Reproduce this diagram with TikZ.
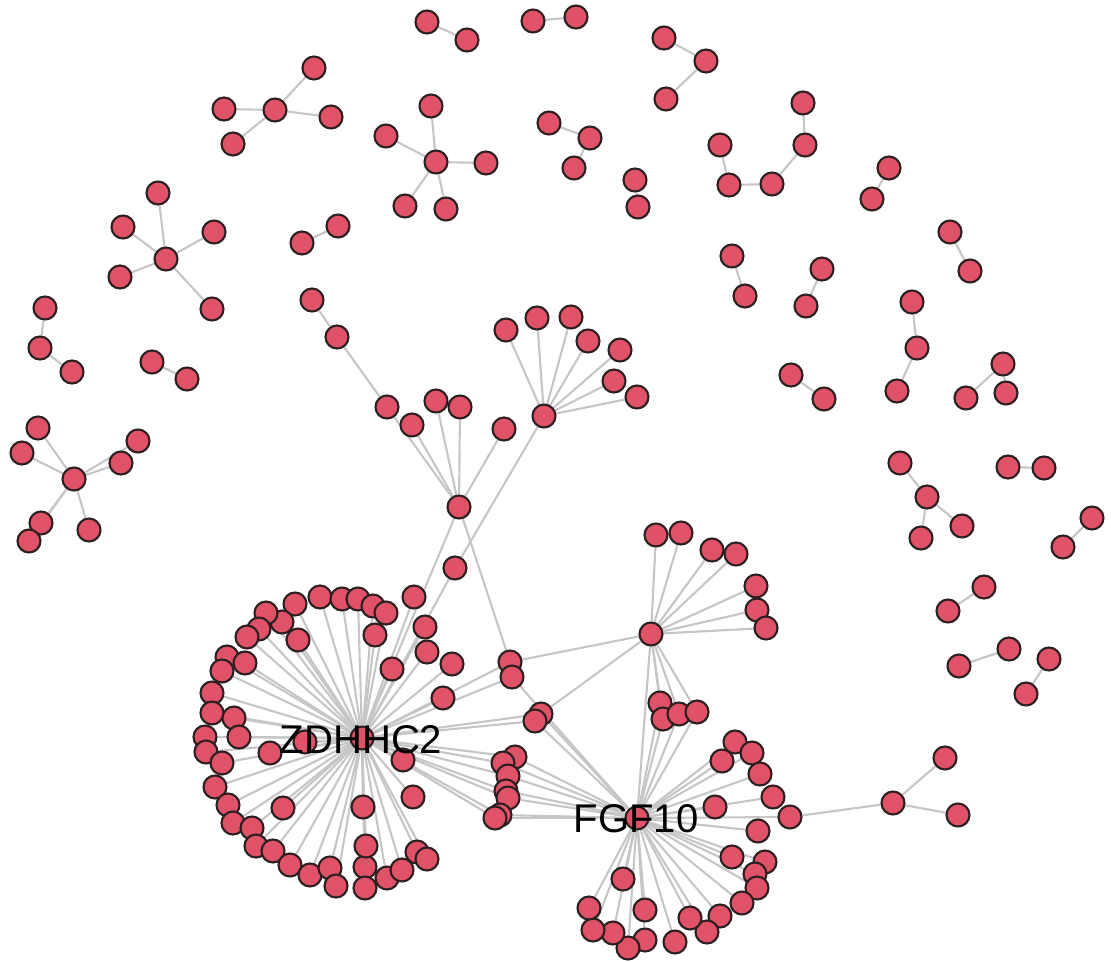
\documentclass[tikz,border=0pt]{standalone}
\usepackage{fontspec}
\setmainfont{Liberation Sans}
\usetikzlibrary{backgrounds}
\definecolor{nodefill}{RGB}{224,82,104}
\definecolor{nodeline}{RGB}{45,30,32}
\definecolor{edgecol}{RGB}{198,198,198}
\tikzset{
  v/.style={circle,fill=nodefill,draw=nodeline,line width=0.6pt,inner sep=0pt,minimum size=2.3mm},
  e/.style={draw=edgecol,line width=0.6pt},
  lbl/.style={font=\fontsize{11.4}{13}\selectfont,text=black,inner sep=0pt}
}
\begin{document}
\begin{tikzpicture}[x=0.01cm,y=-0.01cm]
\useasboundingbox (0,0) rectangle (1111,963);
% hubs
\node[v] (zc) at (362,738) {};
\node[v] (fc) at (637,818) {};
\node[v] (h1) at (459,507) {};
\node[v] (h2) at (544,416) {};
\node[v] (h3) at (651,634) {};
\node[v] (n455) at (455,568) {};
% ZDHHC2 leaves
\foreach \n/\x/\y in {z1/320/597,z2/342/599,z3/358/599,z4/373/606,z5/386/613,z6/375/635,z7/295/604,z8/282/622,z9/266/613,z10/259/629,z11/247/637,z12/298/640,z13/227/657,z14/245/663,z15/222/671,z16/212/693,z17/212/713,z18/234/718,z19/239/737,z20/205/737,z21/206/752,z22/222/763,z23/270/753,z24/305/742,z25/215/787,z26/228/805,z27/233/823,z28/252/828,z29/256/846,z30/273/851,z31/290/865,z32/310/875,z33/330/868,z34/336/886,z35/365/867,z36/365/888,z37/366/846,z38/363/807,z39/387/878,z40/402/870,z41/417/852,z42/427/859,z43/413/797,z44/403/760,z45/283/808,z46/392/669,z47/425/627,z48/414/597,z49/427/652,z50/452/664,z51/443/698}
  \node[v] (\n) at (\x,\y) {};
% hub1 tree
\foreach \n/\x/\y in {t1/312/300,t2/337/337,t3/387/407,t4/412/425,t5/436/401,t6/460/407,t7/504/429}
  \node[v] (\n) at (\x,\y) {};
% hub2 leaves
\foreach \n/\x/\y in {p1/506/330,p2/537/318,p3/571/317,p4/588/341,p5/620/350,p6/614/381,p7/637/397}
  \node[v] (\n) at (\x,\y) {};
% hub3 leaves and cluster
\foreach \n/\x/\y in {q1/656/535,q2/681/533,q3/712/550,q4/736/554,q5/756/586,q6/757/610,q7/766/628,c1/660/703,c2/663/719,c3/679/714,c4/697/712}
  \node[v] (\n) at (\x,\y) {};
% bridges
\foreach \n/\x/\y in {r1/510/662,r2/512/677,r3/541/714,r4/535/721,b1/515/757,b2/503/763,b3/508/776,b4/506/791,b5/508/798,b6/500/815,b7/495/818}
  \node[v] (\n) at (\x,\y) {};
% FGF10 leaves
\foreach \n/\x/\y in {f1/735/742,f2/722/761,f3/752/753,f4/760/774,f5/773/797,f6/715/807,f7/758/831,f8/732/857,f9/765/862,f10/755/874,f11/757/888,f12/742/903,f13/720/916,f14/707/932,f15/690/918,f16/675/942,f17/645/940,f18/645/910,f19/628/948,f20/613/933,f21/593/930,f22/589/908,f23/623/879,g1/790/817,g2/893/803,g3/945/758,g4/958/815}
  \node[v] (\n) at (\x,\y) {};
% small components
\foreach \n/\x/\y in {a1/427/22,a2/467/40,a3/533/21,a4/576/17,a5/664/38,a6/706/61,a7/666/99,
  d0/275/110,d1/314/68,d2/224/109,d3/331/117,d4/233/144,
  e0/436/162,e1/431/106,e2/386/136,e3/486/163,e4/405/206,e5/446/209,
  s1/302/243,s2/338/226,
  g0/166/259,gg1/158/193,gg2/123/227,gg3/214/232,gg4/120/277,gg5/212/309,
  k1/45/308,k2/40/348,k3/72/372,i1/152/362,i2/187/379,
  j0/74/479,j1/38/428,j2/22/453,j3/138/441,j4/121/463,j5/41/523,j6/29/541,j7/89/530,
  m1/549/123,m2/590/138,m3/574/168,m4/635/180,m5/638/207,
  u1/720/145,u2/729/185,u3/772/184,u4/805/145,u5/803/103,
  w1/889/168,w2/872/199,w3/950/232,w4/970/271,w5/732/256,w6/745/296,w7/822/269,w8/806/306,
  x1/912/302,x2/917/348,x3/897/391,x4/1003/364,x5/966/398,x6/1006/393,x7/791/375,x8/824/399,
  y0/927/497,y1/900/463,y2/962/526,y3/921/538,y4/1008/467,y5/1044/468,y6/1092/518,y7/1063/547,
  o1/984/587,o2/948/611,o3/1009/649,o4/959/666,o5/1049/659,o6/1026/694}
  \node[v] (\n) at (\x,\y) {};
\begin{scope}[on background layer]
\foreach \i in {1,...,51} \draw[e] (zc) -- (z\i);
\foreach \i in {1,...,23} \draw[e] (fc) -- (f\i);
\foreach \i in {1,...,7} {\draw[e] (h2) -- (p\i); \draw[e] (h3) -- (q\i); \draw[e] (zc) -- (b\i); \draw[e] (fc) -- (b\i);}
\foreach \i in {1,...,4} {\draw[e] (h3) -- (c\i); \draw[e] (fc) -- (c\i);}
\foreach \a/\b in {h1/t3,t3/t2,t2/t1,h1/t4,h1/t5,h1/t6,h1/t7,h1/zc,h1/r1,h2/n455,n455/zc,
  h3/r1,h3/r3,h3/fc,r1/zc,r2/zc,r2/fc,r3/zc,r3/fc,r4/zc,r4/fc,fc/g1,g1/g2,g2/g3,g2/g4,
  a1/a2,a3/a4,a5/a6,a6/a7,d0/d1,d0/d2,d0/d3,d0/d4,e0/e1,e0/e2,e0/e3,e0/e4,e0/e5,s1/s2,
  g0/gg1,g0/gg2,g0/gg3,g0/gg4,g0/gg5,k1/k2,k2/k3,i1/i2,
  j0/j1,j0/j2,j0/j3,j0/j4,j0/j5,j0/j6,j0/j7,
  m1/m2,m2/m3,m4/m5,u1/u2,u2/u3,u3/u4,u4/u5,w1/w2,w3/w4,w5/w6,w7/w8,
  x1/x2,x2/x3,x4/x5,x4/x6,x7/x8,y0/y1,y0/y2,y0/y3,y4/y5,y6/y7,o1/o2,o3/o4,o5/o6}
  \draw[e] (\a) -- (\b);
\end{scope}
\node[lbl] (lz) at (361,740) {ZDHHC2};
\node[lbl] (lf) at (636,819) {FGF10};
\end{tikzpicture}
\end{document}
